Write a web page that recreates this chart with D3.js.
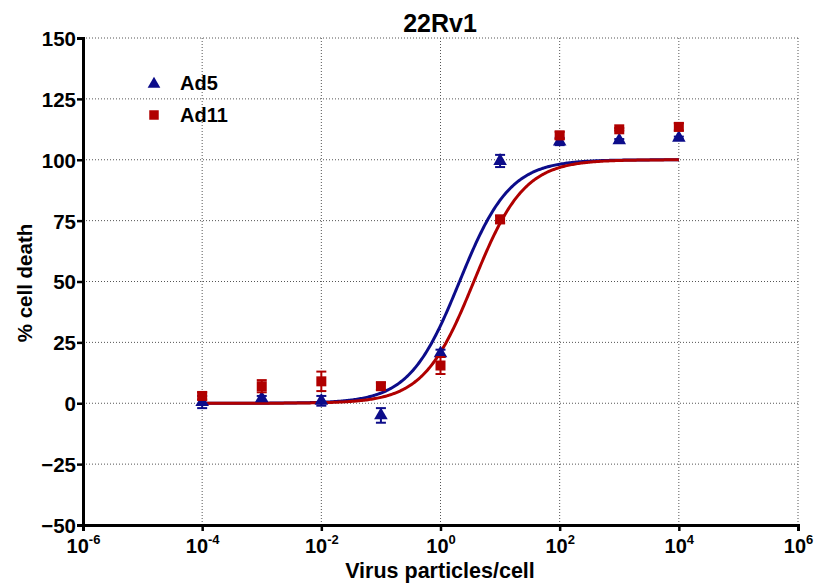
<!DOCTYPE html>
<html>
<head>
<meta charset="utf-8">
<script src="https://cdn.jsdelivr.net/npm/d3@7"></script>
<style>
body { margin: 0; background: #fff; }
text { font-family: "Liberation Sans", Arial, sans-serif; font-weight: bold; }
</style>
</head>
<body>
<svg width="818" height="588"></svg>
<script>
// doses (virus particles/cell)
var doses = [1e-4, 1e-3, 1e-2, 1e-1, 1e0, 1e1, 1e2, 1e3, 1e4];
var ad5Mean = [0.5, 2, 1, -5, 20.5, 99.5, 107.5, 108, 109];
var ad5Err = [2.5, 1, 2, 3, 1.5, 2.5, 1.5, 0.5, 0.5];
var ad11Mean = [3, 7, 9, 7, 15.5, 75.5, 110, 112.5, 113.5];
var ad11Err = [1.5, 2.5, 4, 1.5, 3.5, 1.5, 1.5, 0.5, 1.5];
// fitted sigmoid params (bottom, top, logEC50, hill)
var ad5Fit = [0, 100, 0.32, 1.03];
var ad11Fit = [0, 100, 0.56, 1.03];
var yTicks = [-50, -25, 0, 25, 50, 75, 100, 125, 150];
var xTicks = [1e-6, 1e-4, 1e-2, 1e0, 1e2, 1e4, 1e6];

var svg = d3.select("svg"),
    margin = {top: 38, right: 20, bottom: 63, left: 83},
    width = +svg.attr("width") - margin.left - margin.right,
    height = +svg.attr("height") - margin.top - margin.bottom;

var x = d3.scaleLog().domain([1e-6, 1e6]).range([0, width]),
    y = d3.scaleLinear().domain([-50, 150]).range([height, 0]);

var g = svg.append("g").attr("transform", "translate(" + margin.left + "," + margin.top + ")");

var blue = "#0c0c8a", red = "#b00000";

// grid
g.selectAll(".gx").data(xTicks.slice(1)).enter().append("line")
    .attr("x1", function(d) { return x(d); }).attr("x2", function(d) { return x(d); })
    .attr("y1", 0).attr("y2", height)
    .attr("stroke", "#555").attr("stroke-width", 1).attr("stroke-dasharray", "1,2");
g.selectAll(".gy").data(yTicks.slice(1)).enter().append("line")
    .attr("x1", 0).attr("x2", width)
    .attr("y1", function(d) { return y(d); }).attr("y2", function(d) { return y(d); })
    .attr("stroke", "#555").attr("stroke-width", 1).attr("stroke-dasharray", "1,2");

function expo(n) {
    return Math.round(Math.log10(n));
}

var xAxis = d3.axisBottom(x).tickValues(xTicks).tickSize(6).tickFormat("");
var yAxis = d3.axisLeft(y).tickValues(yTicks).tickSize(6);

var gx = g.append("g").attr("transform", "translate(0," + height + ")").call(xAxis);
var gy = g.append("g").call(yAxis);
[gx, gy].forEach(function(a) {
    a.select(".domain").attr("stroke-width", 3).attr("stroke", "#000");
    a.selectAll(".tick line").attr("stroke-width", 2.5).attr("stroke", "#000");
});
gy.selectAll(".tick text").attr("font-size", 20.5).attr("font-family", "Liberation Sans, Arial, sans-serif")
    .attr("font-weight", "bold").attr("fill", "#000").attr("x", -7).attr("dy", "0.36em");

gx.selectAll(".tick").each(function(d) {
    var t = d3.select(this).append("text").attr("y", 28).attr("fill", "#000")
        .attr("font-size", 20).attr("text-anchor", "middle");
    t.append("tspan").text("10");
    var e = expo(d);
    t.append("tspan").attr("dy", -9).attr("font-size", 13).text(e < 0 ? "-" + Math.abs(e) : e);
});

// curves
function curve(p) {
    return d3.range(-4, 4.001, 0.02).map(function(lx) {
        return [Math.pow(10, lx), p[0] + (p[1] - p[0]) / (1 + Math.pow(10, (p[2] - lx) * p[3]))];
    });
}
var line = d3.line().x(function(d) { return x(d[0]); }).y(function(d) { return y(d[1]); });
g.append("path").datum(curve(ad5Fit)).attr("d", line).attr("fill", "none").attr("stroke", blue).attr("stroke-width", 3);
g.append("path").datum(curve(ad11Fit)).attr("d", line).attr("fill", "none").attr("stroke", red).attr("stroke-width", 3);

// error bars + markers
function drawSeries(mean, err, color, shape) {
    var s = g.append("g");
    doses.forEach(function(d, i) {
        var cx = x(d), lo = y(mean[i] - err[i]), hi = y(mean[i] + err[i]);
        s.append("line").attr("x1", cx).attr("x2", cx).attr("y1", lo).attr("y2", hi).attr("stroke", color).attr("stroke-width", 2);
        [lo, hi].forEach(function(yy) {
            s.append("line").attr("x1", cx - 5).attr("x2", cx + 5).attr("y1", yy).attr("y2", yy).attr("stroke", color).attr("stroke-width", 2);
        });
        var sym = d3.symbol().type(shape).size(shape === d3.symbolSquare ? 100 : 80);
        s.append("path").attr("d", sym()).attr("transform", "translate(" + cx + "," + y(mean[i]) + ")").attr("fill", color);
    });
}
drawSeries(ad5Mean, ad5Err, blue, d3.symbolTriangle);
drawSeries(ad11Mean, ad11Err, red, d3.symbolSquare);

// legend
var leg = svg.append("g");
leg.append("path").attr("d", d3.symbol().type(d3.symbolTriangle).size(70)()).attr("transform", "translate(154,84)").attr("fill", blue);
leg.append("text").attr("x", 180).attr("y", 90).attr("font-size", 20).text("Ad5");
leg.append("path").attr("d", d3.symbol().type(d3.symbolSquare).size(90)()).attr("transform", "translate(154,115)").attr("fill", red);
leg.append("text").attr("x", 180).attr("y", 122).attr("font-size", 20).text("Ad11");

// titles
svg.append("text").attr("x", 440).attr("y", 32).attr("text-anchor", "middle").attr("font-size", 25).text("22Rv1");
svg.append("text").attr("x", 440).attr("y", 578).attr("text-anchor", "middle").attr("font-size", 21.5).text("Virus particles/cell");
svg.append("text").attr("transform", "translate(32,283) rotate(-90)").attr("text-anchor", "middle").attr("font-size", 20.5).text("% cell death");
</script>
</body>
</html>
